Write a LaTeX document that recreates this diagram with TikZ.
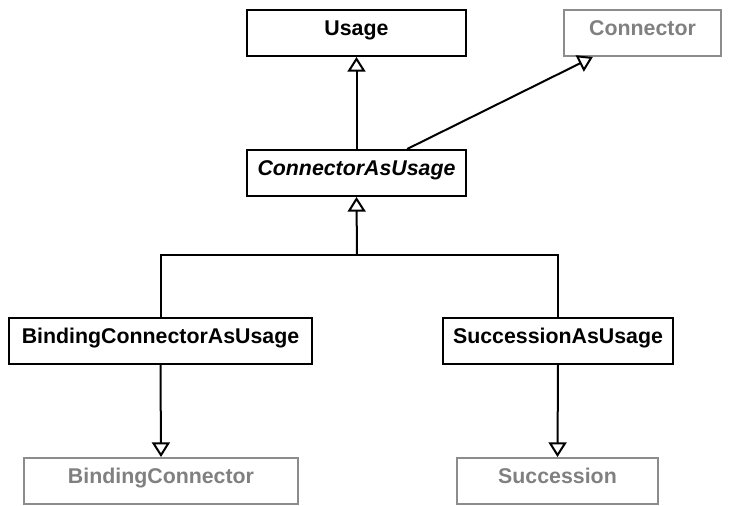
\documentclass[tikz,border=0pt]{standalone}
\usepackage{fontspec}
\setmainfont{Liberation Sans}
\usetikzlibrary{arrows.meta,calc}
\begin{document}
\begin{tikzpicture}[x=0.75pt,y=-0.75pt,
  box/.style={draw=black,line width=1.5pt,rectangle,minimum height=34.5pt,inner sep=0pt,text height=11.5pt,text depth=8pt,font=\bfseries\fontsize{16}{19}\selectfont,text=black},
  ext/.style={box,draw=black!45,text=black!50},
  gen/.style={line width=1.5pt,-{Triangle[open,length=11pt,width=13.5pt,fill=white]}}]
\useasboundingbox (0,0) rectangle (733,506);
\node[box,minimum width=164pt] (usage) at (356.5,33) {Usage};
\node[ext,minimum width=118pt] (connector) at (642.5,33) {Connector};
\node[box,minimum width=164pt] (cau) at (356.5,173) {\itshape ConnectorAsUsage};
\node[box,minimum width=227pt] (bcau) at (160.5,341) {BindingConnectorAsUsage};
\node[box,minimum width=172pt] (sau) at (558,341) {SuccessionAsUsage};
\node[ext,minimum width=205pt] (bc) at (161,481) {BindingConnector};
\node[ext,minimum width=151pt] (s) at (557.5,481) {Succession};
\coordinate (j) at (357,255);
\draw[gen] (cau.north) -- (usage.south);
\draw[gen] ($(cau.north west)+(161,0)$) -- ($(connector.south west)+(30,0)$);
\draw[line width=1.5pt] (bcau.north) |- (j) -| (sau.north);
\draw[gen] (j) -- (cau.south);
\draw[gen] (bcau.south) -- (bc.north);
\draw[gen] (sau.south) -- (s.north);
\end{tikzpicture}
\end{document}
